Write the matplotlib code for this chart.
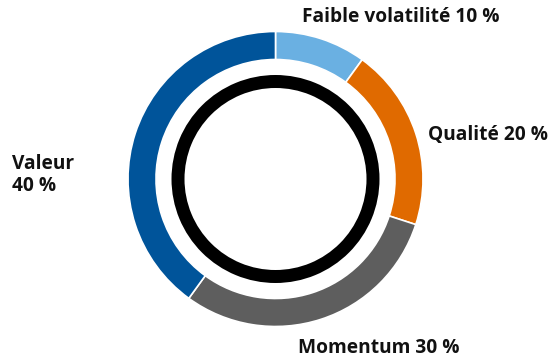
import matplotlib.pyplot as plt
from matplotlib.patches import Wedge

labels = ["Faible volatilité", "Qualité", "Momentum", "Valeur"]
shares = [10, 20, 30, 40]
colors = ["#6AB0E2", "#E06A00", "#5E5E5E", "#00549A"]

plt.rcParams["font.family"] = ["Open Sans", "DejaVu Sans"]

fig = plt.figure(figsize=(5.54, 3.6), dpi=100)
ax = fig.add_axes([0, 0, 1, 1])

cx, cy = 275.5, 181
ax.pie(shares, colors=colors, startangle=90, counterclock=False,
       center=(cx, cy), radius=147.5, frame=True,
       wedgeprops=dict(width=28, edgecolor="white", linewidth=1.2))
ax.set_xlim(0, 554)
ax.set_ylim(0, 360)
ax.set_aspect("equal")
ax.axis("off")

# inner black ring
ax.add_patch(Wedge((cx, cy), 104, 0, 360, width=13, facecolor="black", edgecolor="none"))

fs = 13.8
kw = dict(fontsize=fs, fontweight="bold", color="#111111", va="center", ha="left")
ax.text(302, 360 - 17, f"{labels[0]} {shares[0]} %", **kw)
ax.text(428, 360 - 135, f"{labels[1]} {shares[1]} %", **kw)
ax.text(298, 360 - 348, f"{labels[2]} {shares[2]} %", **kw)
ax.text(12, 360 - 175, f"{labels[3]}\n{shares[3]} %", linespacing=1.1, **kw)

fig.savefig("out.png", dpi=100)
